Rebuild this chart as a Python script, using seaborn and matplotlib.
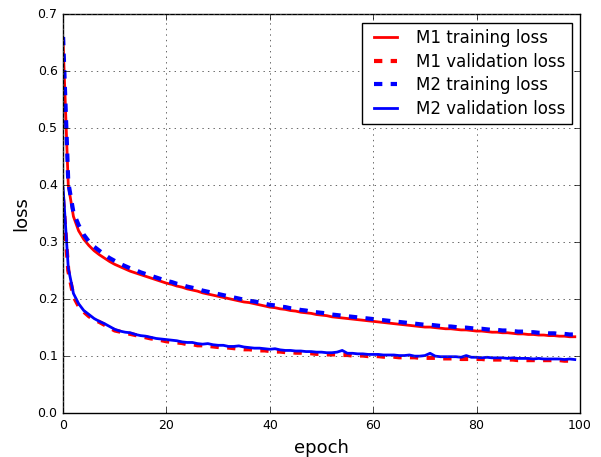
import numpy as np
import pandas as pd
import matplotlib
matplotlib.use("Agg")
import matplotlib.pyplot as plt
import seaborn as sns

# values, one per epoch
epochs = list(range(100))

m1_train = [0.650, 0.400, 0.345, 0.320, 0.305, 0.294, 0.285, 0.278, 0.272, 0.266,
            0.261, 0.257, 0.253, 0.249, 0.246, 0.243, 0.240, 0.237, 0.234, 0.231,
            0.228, 0.226, 0.223, 0.221, 0.218, 0.216, 0.214, 0.211, 0.209, 0.207,
            0.205, 0.203, 0.201, 0.199, 0.197, 0.195, 0.194, 0.192, 0.190, 0.188,
            0.186, 0.185, 0.183, 0.182, 0.180, 0.179, 0.177, 0.176, 0.175, 0.173,
            0.172, 0.171, 0.169, 0.168, 0.167, 0.166, 0.165, 0.164, 0.163, 0.162,
            0.161, 0.160, 0.159, 0.158, 0.157, 0.156, 0.155, 0.154, 0.153, 0.152,
            0.151, 0.151, 0.150, 0.149, 0.148, 0.148, 0.147, 0.146, 0.146, 0.145,
            0.144, 0.144, 0.143, 0.142, 0.142, 0.141, 0.141, 0.140, 0.139, 0.139,
            0.138, 0.138, 0.137, 0.137, 0.136, 0.136, 0.135, 0.135, 0.134, 0.134]

m1_valid = [0.375, 0.250, 0.205, 0.188, 0.178, 0.170, 0.164, 0.160, 0.155, 0.150,
            0.145, 0.143, 0.141, 0.139, 0.137, 0.135, 0.133, 0.131, 0.130, 0.128,
            0.126, 0.125, 0.124, 0.123, 0.121, 0.121, 0.119, 0.119, 0.118, 0.117,
            0.116, 0.115, 0.115, 0.114, 0.113, 0.112, 0.112, 0.111, 0.110, 0.110,
            0.109, 0.108, 0.108, 0.107, 0.107, 0.106, 0.106, 0.105, 0.105, 0.104,
            0.104, 0.103, 0.103, 0.103, 0.102, 0.102, 0.101, 0.101, 0.101, 0.100,
            0.100, 0.100, 0.099, 0.099, 0.099, 0.098, 0.098, 0.098, 0.098, 0.097,
            0.097, 0.097, 0.097, 0.096, 0.096, 0.096, 0.096, 0.095, 0.095, 0.095,
            0.095, 0.095, 0.094, 0.094, 0.094, 0.094, 0.094, 0.094, 0.093, 0.093,
            0.093, 0.093, 0.093, 0.093, 0.093, 0.093, 0.093, 0.092, 0.092, 0.092]

m2_train = [0.660, 0.405, 0.352, 0.330, 0.313, 0.301, 0.292, 0.285, 0.278, 0.272,
            0.267, 0.262, 0.258, 0.254, 0.251, 0.247, 0.244, 0.241, 0.238, 0.235,
            0.232, 0.230, 0.227, 0.225, 0.222, 0.220, 0.218, 0.215, 0.213, 0.211,
            0.209, 0.207, 0.205, 0.203, 0.201, 0.199, 0.197, 0.196, 0.194, 0.192,
            0.190, 0.189, 0.187, 0.186, 0.184, 0.183, 0.181, 0.180, 0.178, 0.177,
            0.176, 0.175, 0.173, 0.172, 0.171, 0.170, 0.169, 0.168, 0.167, 0.166,
            0.165, 0.164, 0.163, 0.162, 0.161, 0.160, 0.159, 0.158, 0.157, 0.156,
            0.155, 0.155, 0.154, 0.153, 0.152, 0.152, 0.151, 0.150, 0.150, 0.149,
            0.148, 0.148, 0.147, 0.146, 0.146, 0.145, 0.145, 0.144, 0.143, 0.143,
            0.142, 0.142, 0.141, 0.141, 0.140, 0.140, 0.139, 0.139, 0.138, 0.138]

m2_valid = [0.395, 0.255, 0.210, 0.192, 0.180, 0.173, 0.166, 0.161, 0.157, 0.152,
            0.147, 0.144, 0.142, 0.141, 0.138, 0.136, 0.135, 0.133, 0.131, 0.130,
            0.129, 0.128, 0.127, 0.125, 0.124, 0.124, 0.122, 0.121, 0.122, 0.120,
            0.119, 0.119, 0.117, 0.117, 0.118, 0.116, 0.115, 0.114, 0.114, 0.113,
            0.112, 0.113, 0.111, 0.110, 0.110, 0.109, 0.109, 0.108, 0.108, 0.107,
            0.107, 0.106, 0.106, 0.107, 0.110, 0.105, 0.105, 0.104, 0.104, 0.103,
            0.103, 0.103, 0.102, 0.102, 0.102, 0.101, 0.101, 0.102, 0.100, 0.100,
            0.101, 0.105, 0.100, 0.099, 0.099, 0.099, 0.099, 0.098, 0.101, 0.098,
            0.098, 0.097, 0.098, 0.097, 0.097, 0.097, 0.096, 0.097, 0.096, 0.096,
            0.096, 0.095, 0.096, 0.095, 0.095, 0.095, 0.095, 0.094, 0.095, 0.094]

plt.style.use('classic')
plt.rcParams['figure.facecolor'] = 'white'
plt.rcParams['font.family'] = ['DejaVu Sans']

fig = plt.figure(figsize=(6.01, 4.57), dpi=100)
ax = fig.add_axes([0.105, 0.096, 0.860, 0.873])

sns.lineplot(x=epochs, y=m1_train, color='red', lw=2, label='M1 training loss', ax=ax)
sns.lineplot(x=epochs, y=m1_valid, color='red', lw=3, label='M1 validation loss', ax=ax)
sns.lineplot(x=epochs, y=m2_train, color='blue', lw=3, label='M2 training loss', ax=ax)
sns.lineplot(x=epochs, y=m2_valid, color='blue', lw=2, label='M2 validation loss', ax=ax)
ax.lines[1].set_linestyle('--')  # M1 validation dashed
ax.lines[2].set_linestyle('--')  # M2 training dashed

ax.set_xlim(0, 100)
ax.set_ylim(0, 0.7)
ax.set_xlabel('epoch', fontsize=13)
ax.set_ylabel('loss', fontsize=13)
ax.tick_params(labelsize=9)
ax.grid(True, color='0.3', linestyle=':', linewidth=0.6)

ax.legend(loc='upper right', fontsize=12, labelspacing=0.33)

fig.savefig('out.png', dpi=100, facecolor='white')
